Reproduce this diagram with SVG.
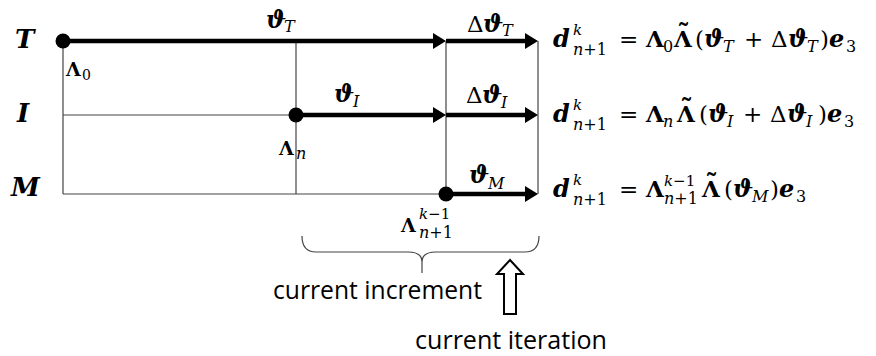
<svg xmlns="http://www.w3.org/2000/svg" width="876" height="356" viewBox="0 0 876 356">
<style>
text{font-family:"DejaVu Serif","Liberation Serif",serif;fill:#000}
.bi{font-weight:bold;font-style:italic}
.b{font-weight:bold}
.i{font-style:italic}
.big{font-size:23px}
.bg{font-size:24px}
.sub{font-size:16px}
.sup{font-size:15px}
.til{font-size:26px;font-weight:bold}
.lab{font-size:26px;font-weight:bold;font-style:italic}
.lam{font-size:19px;font-weight:bold}
.ls{font-size:14px}
.sans{font-family:"Open Sans","Liberation Sans",sans-serif;font-size:25px}
.thin{stroke:#444;stroke-width:1.2;fill:none}
.thick{stroke:#000;stroke-width:4.5;fill:none;marker-end:url(#ah)}
</style>
<defs>
<marker id="ah" markerUnits="userSpaceOnUse" markerWidth="13" markerHeight="16" refX="4" refY="8" orient="auto">
<path d="M0,0 L13,8 L0,16 z" fill="#000"/>
</marker>
</defs>
<rect width="876" height="356" fill="#fff"/>
<g id="grid">
<line class="thin" x1="63" y1="41" x2="63" y2="194"/>
<line class="thin" x1="296" y1="41" x2="296" y2="194"/>
<line class="thin" x1="446" y1="41" x2="446" y2="194"/>
<line class="thin" x1="538" y1="41" x2="538" y2="194"/>
<line class="thin" x1="63" y1="115" x2="296" y2="115"/>
<line class="thin" x1="63" y1="194" x2="446" y2="194"/>
</g>
<g id="connectors">
<line class="thick" x1="63" y1="41" x2="437" y2="41"/>
<line class="thick" x1="446" y1="41" x2="529" y2="41"/>
<line class="thick" x1="296" y1="115" x2="437" y2="115"/>
<line class="thick" x1="446" y1="115" x2="529" y2="115"/>
<line class="thick" x1="446" y1="194" x2="529" y2="194"/>
</g>
<g id="nodes">
<circle cx="63" cy="41" r="7.5"/>
<circle cx="296" cy="115" r="7.5"/>
<circle cx="446" cy="194" r="7.5"/>
</g>
<g id="row-labels">
<text class="lab" x="15" y="48">T</text>
<text class="lab" x="17" y="122">I</text>
<text class="lab" x="11" y="196">M</text>
</g>
<g id="arrow-labels">
<text class="bi bg" x="266" y="28">ϑ</text><text class="sub i" x="284" y="32">T</text>
<text class="big" x="467" y="32">Δ</text><text class="bi bg" x="483" y="32">ϑ</text><text class="sub i" x="502" y="36">T</text>
<text class="bi bg" x="334" y="102">ϑ</text><text class="sub i" x="353" y="107">I</text>
<text class="big" x="466" y="103">Δ</text><text class="bi bg" x="482" y="103">ϑ</text><text class="sub i" x="501" y="108">I</text>
<text class="bi bg" x="469" y="183">ϑ</text><text class="sub i" x="488" y="189">M</text>
<text class="lam" x="66" y="76">Λ</text><text class="ls" x="82" y="80">0</text>
<text class="lam" x="279" y="155">Λ</text><text class="sub i" x="296" y="159">n</text>
<text class="lam" x="401" y="232">Λ</text><text class="sup" x="419" y="219"><tspan class="i">k</tspan>−1</text><text class="sub" x="419" y="238"><tspan class="i">n</tspan>+1</text>
</g>
<g id="eq1">
<text class="bi bg" x="553" y="47">d</text>
<text class="sup i" x="573" y="35">k</text>
<text class="sub" x="573" y="55"><tspan class="i">n</tspan>+1</text>
<text class="big" x="619" y="47">=</text>
<text class="b big" x="646" y="47">Λ</text>
<text class="sub" x="663" y="52">0</text>
<text class="b big" x="674" y="47">Λ<tspan class="til" x="677" y="43">˜</tspan></text>
<text class="big" x="695" y="47">(</text>
<text class="bi bg" x="704" y="47">ϑ</text>
<text class="sub i" x="723" y="52">T</text>
<text class="big" x="744" y="47">+</text>
<text class="big" x="771" y="47">Δ</text>
<text class="bi bg" x="788" y="47">ϑ</text>
<text class="sub i" x="807" y="52">T</text>
<text class="big" x="820" y="47">)</text>
<text class="bi bg" x="829" y="47">e</text>
<text class="sub" x="846" y="52">3</text>
</g>
<g id="eq2">
<text class="bi bg" x="553" y="122">d</text>
<text class="sup i" x="573" y="110">k</text>
<text class="sub" x="573" y="130"><tspan class="i">n</tspan>+1</text>
<text class="big" x="619" y="122">=</text>
<text class="b big" x="646" y="122">Λ</text>
<text class="sub i" x="663" y="127">n</text>
<text class="b big" x="677" y="122">Λ<tspan class="til" x="680" y="118">˜</tspan></text>
<text class="big" x="699" y="122">(</text>
<text class="bi bg" x="708" y="122">ϑ</text>
<text class="sub i" x="727" y="127">I</text>
<text class="big" x="743" y="122">+</text>
<text class="big" x="770" y="122">Δ</text>
<text class="bi bg" x="787" y="122">ϑ</text>
<text class="sub i" x="806" y="127">I</text>
<text class="big" x="818" y="122">)</text>
<text class="bi bg" x="827" y="122">e</text>
<text class="sub" x="844" y="127">3</text>
</g>
<g id="eq3">
<text class="bi bg" x="553" y="197">d</text>
<text class="sup i" x="573" y="185">k</text>
<text class="sub" x="573" y="205"><tspan class="i">n</tspan>+1</text>
<text class="big" x="619" y="197">=</text>
<text class="b big" x="646" y="197">Λ</text>
<text class="sup" x="664" y="186"><tspan class="i">k</tspan>−1</text>
<text class="sub" x="664" y="204"><tspan class="i">n</tspan>+1</text>
<text class="b big" x="702" y="197">Λ<tspan class="til" x="705" y="193">˜</tspan></text>
<text class="big" x="724" y="197">(</text>
<text class="bi bg" x="733" y="197">ϑ</text>
<text class="sub i" x="752" y="202">M</text>
<text class="big" x="770" y="197">)</text>
<text class="bi bg" x="779" y="197">e</text>
<text class="sub" x="796" y="202">3</text>
</g>
<g id="brace">
<path class="thin" stroke="#222" stroke-width="1.6" d="M302,236 Q302,252 316,252 L408,252 Q422,252 422,262 L422,273 M422,262 Q422,252 436,252 L525,252 Q539,252 539,236"/>
</g>
<g id="iteration-arrow">
<path d="M510,260 L523,274 L516,274 L516,314 L504,314 L504,274 L497,274 Z" fill="#fff" stroke="#000" stroke-width="2" stroke-linejoin="miter"/>
</g>
<g id="captions">
<text class="sans" x="273" y="299" textLength="209" lengthAdjust="spacingAndGlyphs">current increment</text>
<text class="sans" x="415" y="349" textLength="192" lengthAdjust="spacingAndGlyphs">current iteration</text>
</g>
</svg>
